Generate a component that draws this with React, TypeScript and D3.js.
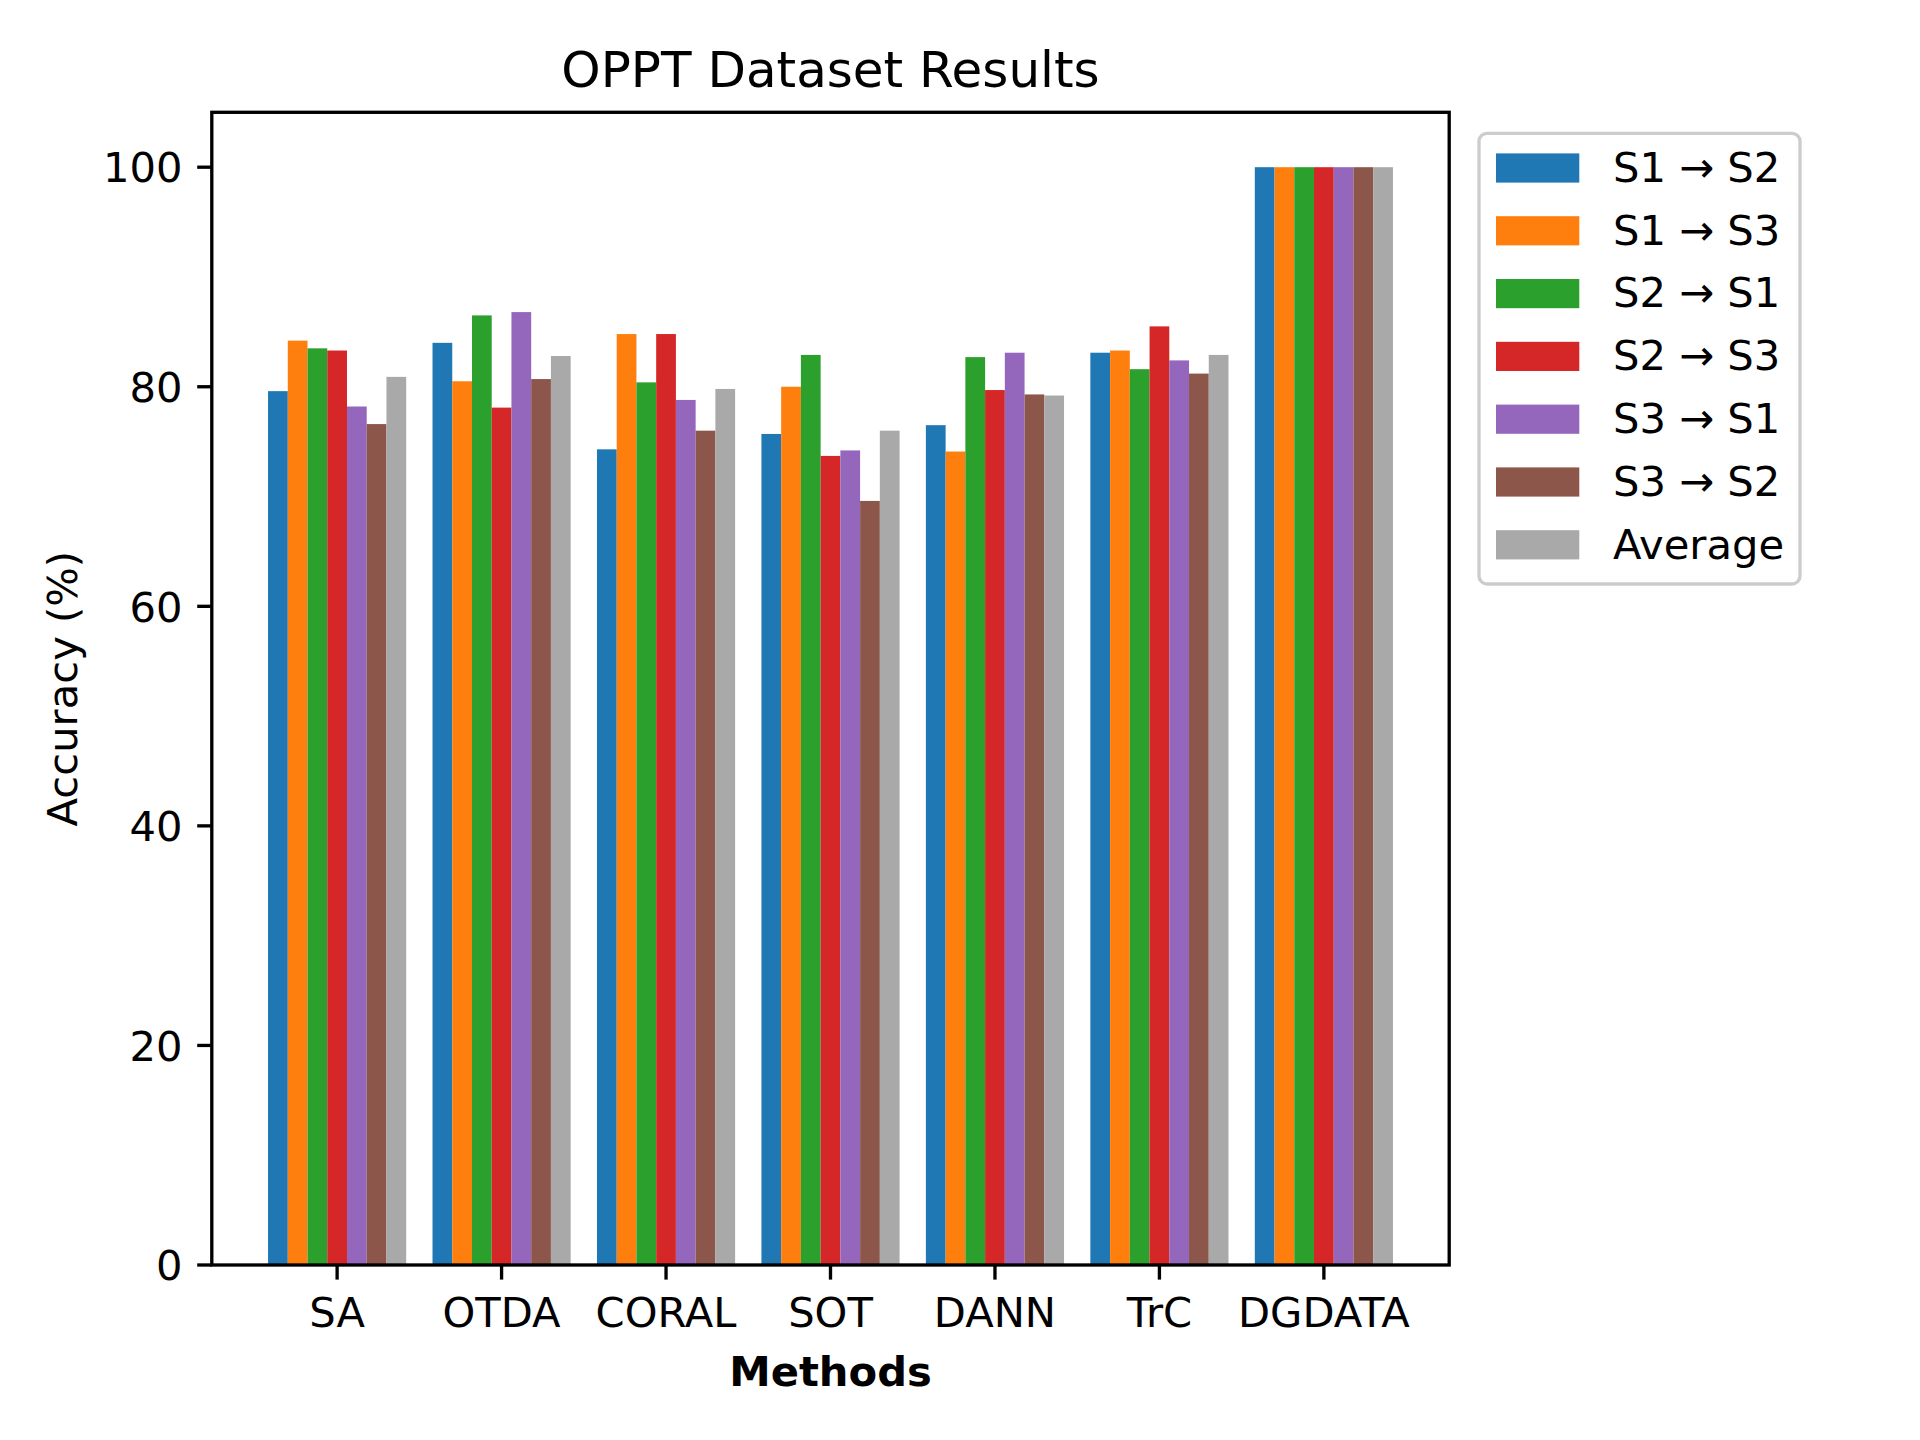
import { FC } from 'react'
import * as d3 from 'd3'

const methods = ['SA', 'OTDA', 'CORAL', 'SOT', 'DANN', 'TrC', 'DGDATA']

const seriesNames = ['S1 → S2', 'S1 → S3', 'S2 → S1', 'S2 → S3', 'S3 → S1', 'S3 → S2', 'Average']

const s1s2 = [79.6, 84.0, 74.3, 75.7, 76.5, 83.1, 100]
const s1s3 = [84.2, 80.5, 84.8, 80.0, 74.1, 83.3, 100]
const s2s1 = [83.5, 86.5, 80.4, 82.9, 82.7, 81.6, 100]
const s2s3 = [83.3, 78.1, 84.8, 73.7, 79.7, 85.5, 100]
const s3s1 = [78.2, 86.8, 78.8, 74.2, 83.1, 82.4, 100]
const s3s2 = [76.6, 80.7, 76.0, 69.6, 79.3, 81.2, 100]
const average = [80.9, 82.8, 79.8, 76.0, 79.2, 82.9, 100]

const yTicks = [0, 20, 40, 60, 80, 100]

const colors = ['#1f77b4', '#ff7f0e', '#2ca02c', '#d62728', '#9467bd', '#8c564b', '#a9a9a9']

const W = 1920
const H = 1440
const margin = { top: 112.3, right: 1449.2, bottom: 1265, left: 211.8 }
const barW = 0.12
const font = 'DejaVu Sans, sans-serif'
const fs = 41.67

const App: FC = () => {
  const series = [s1s2, s1s3, s2s1, s2s3, s3s1, s3s2, average]
  const n = series.length

  // bars span -0.42..6.42, matplotlib adds 5% margins
  const lo = -(n / 2) * barW
  const hi = methods.length - 1 + (n / 2) * barW
  const pad = (hi - lo) * 0.05
  const x = d3.scaleLinear().domain([lo - pad, hi + pad]).range([margin.left, margin.right])
  const y = d3.scaleLinear().domain([0, 105]).range([margin.bottom, margin.top])

  const bw = x(barW) - x(0)
  const cx = (margin.left + margin.right) / 2
  const cy = (margin.top + margin.bottom) / 2
  const tickLen = 14.6
  const lw = 3.33

  const legX = 1479
  const legY = 133.3
  const rowH = 62.8

  return (
    <>
      <style>{`body{margin:0}`}</style>
      <svg width={W} height={H} style={{ display: 'block', background: '#fff' }} fontFamily={font}>
        <rect width={W} height={H} fill="#fff" />

        {series.map((vals, j) =>
          vals.map((v, i) => (
            <rect
              key={`${j}-${i}`}
              x={x(i + (j - (n - 1) / 2) * barW) - bw / 2}
              y={y(v)}
              width={bw}
              height={y(0) - y(v)}
              fill={colors[j]}
            />
          ))
        )}

        {/* spines */}
        <rect
          x={margin.left}
          y={margin.top}
          width={margin.right - margin.left}
          height={margin.bottom - margin.top}
          fill="none"
          stroke="#000"
          strokeWidth={lw}
          strokeLinejoin="miter"
        />

        {/* y axis */}
        {yTicks.map(t => (
          <g key={t}>
            <line x1={margin.left - tickLen} x2={margin.left} y1={y(t)} y2={y(t)} stroke="#000" strokeWidth={lw} />
            <text x={margin.left - tickLen - 14.6} y={y(t) + 15.2} textAnchor="end" fontSize={fs}>
              {t}
            </text>
          </g>
        ))}

        {/* x axis */}
        {methods.map((m, i) => (
          <g key={m}>
            <line x1={x(i)} x2={x(i)} y1={margin.bottom} y2={margin.bottom + tickLen} stroke="#000" strokeWidth={lw} />
            <text x={x(i)} y={1327} textAnchor="middle" fontSize={fs}>
              {m}
            </text>
          </g>
        ))}

        <text x={cx} y={87.3} textAnchor="middle" fontSize={50}>
          OPPT Dataset Results
        </text>
        <text x={cx} y={1386} textAnchor="middle" fontSize={fs} fontWeight="bold">
          Methods
        </text>
        <text transform={`translate(77,${cy}) rotate(-90)`} textAnchor="middle" fontSize={fs}>
          Accuracy (%)
        </text>

        {/* legend */}
        <rect x={legX} y={legY} width={1800 - legX} height={584 - legY} rx={8} fill="#fff" fillOpacity={0.8} stroke="#cccccc" strokeWidth={lw} />
        {seriesNames.map((s, k) => {
          const ry = 168 + k * rowH
          return (
            <g key={s}>
              <rect x={1496} y={ry - 14.6} width={83.3} height={29.2} fill={colors[k]} />
              <text x={1613} y={ry + 13.7} fontSize={fs}>
                {s}
              </text>
            </g>
          )
        })}
      </svg>
    </>
  )
}

export default App
